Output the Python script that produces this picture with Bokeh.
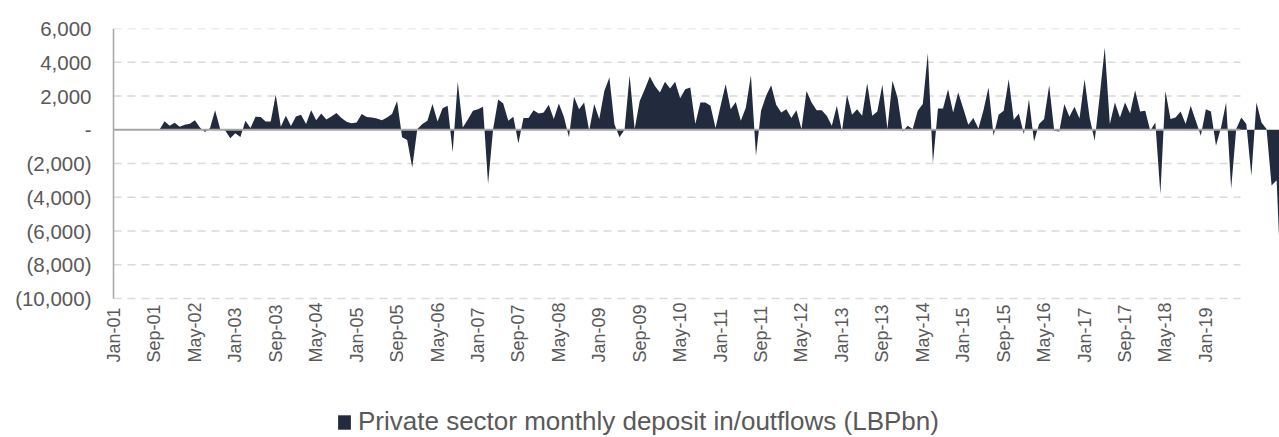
import math
import pandas as pd
from bokeh.plotting import figure
from bokeh.models import ColumnDataSource, FixedTicker, Legend, LegendItem, LabelSet
from bokeh.core.properties import value
from bokeh.embed import file_html
from bokeh.resources import INLINE

# ---------------- data ----------------
START_MONTH = "2001-01-01"

flows = [
    0, 0, 0, 0, 0, 0, 0, 0, 0, 0,
    500, 240, 410, 180, 300, 350, 570, 140, -140,
    100, 1160, 40, -50, -510, -200, -430, 530, 100, 770,
    750, 490, 490, 2070, 180, 830, 220, 790, 890, 340,
    1160, 570, 970, 610, 790, 1000, 690, 470, 390, 430,
    930, 750, 730, 670, 570, 730, 930, 1710, -450, -610,
    -2230, 40, 340, 530, 1520, 490, 1280, 1420, -1340, 2840,
    140, 610, 1120,
    1220, 1360, -3210, 40, 1790, 1560,
    530, 770, -810, 690, 690, 1160, 970, 1020, 1480, 630,
    1560, 770, -450, 1950, 1220, 1620, -60, 1520, 630, 2300,
    3090, 330, -450, 0, 3230, 40, 1710, 2400, 3150, 2600,
    2210, 2840, 2440, 2840, 1870, 2400, 2500, 340, 1620, 1620,
    1420, 100, 1420, 2700, 1220, 1650, 530, 1320, 3230, -1540,
    1120, 2010, 2640,
    1480, 1020, 1220, 690, 1160, 40,
    2300, 1620, 1160, 1160, 830, 240, 1420, -100, 2070, 890,
    1220, 830, 2760, 830, 1080, 2660, 40, 2900, 1910, -100,
    240, 40, 1120, 1520, 4530, -1990, 1260, 1260, 2400, 1020,
    2210, 1280, 300, 690, 80, 1160, 2500, -350, 890, 1120,
    2990, 590, 970, -260, 1810, -690, 340, 630, 2640, -60,
    -100, 1520, 770, 1360,
    670, 2990, 730, -650, 2000,
    4870, 340, 1620, 730, 1620, 970, 2340, 1080, 1120, -60,
    430, -3800, 2300, 630, 730, 1080, 340, 1420, 530, -350,
    1220, 1080, -950, 140, 1620, -3500, 40, 730, 340, -2720,
    1620, 430, 40, -3310, -2990, -10200,
]

y_ticks = [6000, 4000, 2000, 0, -2000, -4000, -6000, -8000, -10000]
y_tick_labels = ["6,000", "4,000", "2,000", "-", "(2,000)", "(4,000)",
                 "(6,000)", "(8,000)", "(10,000)"]

series_name = "Private sector monthly deposit in/outflows (LBPbn)"

dates = pd.date_range(START_MONTH, periods=len(flows), freq="MS")
month_labels = [d.strftime("%b-%y") for d in dates]
label_step = 8
last_label = "Jan-19"
x_tick_idx = list(range(0, month_labels.index(last_label) + 1, label_step))

# ---------------- layout / style ----------------
FONT = "Liberation Sans"
TEXT_COLOR = "#595959"
AREA_COLOR = "#222a3e"
GRID_COLOR = "#d9d9d9"
AXIS_COLOR = "#a6a6a6"

W, H = 1279, 437
FRAME_LEFT, TOP = 100, 28
AXIS_X_PX = 113          # page x of the value axis line
LABEL_RIGHT_PX = 91      # page x where the value labels end
M0_PX = 113.5            # page x of the first month
PX_PER_MONTH = 5.055
AXIS_PX = 270            # pixel height from 6,000 to (10,000)

frame_h = H - TOP
y_max, y_min_tick = y_ticks[0], y_ticks[-1]
y_start = y_max - (y_max - y_min_tick) * frame_h / AXIS_PX

x_start = (FRAME_LEFT - M0_PX) / PX_PER_MONTH
x_end = (W - M0_PX) / PX_PER_MONTH
axis_x = (AXIS_X_PX - M0_PX) / PX_PER_MONTH
grid_end = month_labels.index("Sep-19") - 1.15

src = ColumnDataSource(dict(x=list(range(len(flows))), v=flows))

p = figure(width=W, height=H,
           x_range=(x_start, x_end), y_range=(y_start, y_max),
           output_backend="svg", toolbar_location=None,
           x_axis_location=None,
           min_border_left=FRAME_LEFT, min_border_right=0,
           min_border_top=TOP, min_border_bottom=0)
p.outline_line_color = None
p.background_fill_color = "white"
p.border_fill_color = "white"
p.xgrid.visible = False
p.ygrid.visible = False

# dashed horizontal gridlines at the tick values
grid_vals = [t for t in y_ticks if t != 0]
grid_src = ColumnDataSource(dict(y=grid_vals,
                                 x0=[axis_x] * len(grid_vals),
                                 x1=[grid_end] * len(grid_vals)))
p.segment(x0="x0", y0="y", x1="x1", y1="y", source=grid_src,
          line_color=GRID_COLOR, line_width=1.4, line_dash="8 6")

area = p.varea(x="x", y1=0, y2="v", source=src, fill_color=AREA_COLOR)

# zero (category) axis line
zero_src = ColumnDataSource(dict(x0=[axis_x], x1=[grid_end], y=[0]))
p.segment(x0="x0", y0="y", x1="x1", y1="y", source=zero_src,
          line_color=AXIS_COLOR, line_width=2)

# value-axis line
vline_src = ColumnDataSource(dict(x=[axis_x], y0=[y_min_tick], y1=[y_max]))
p.segment(x0="x", y0="y0", x1="x", y1="y1", source=vline_src,
          line_color=AXIS_COLOR, line_width=1.5)

# y axis (labels only)
yax = p.yaxis[0]
yax.bounds = (y_min_tick, y_max)
yax.ticker = FixedTicker(ticks=y_ticks)
yax.major_label_overrides = {t: l for t, l in zip(y_ticks, y_tick_labels)}
yax.axis_line_color = None
yax.major_tick_line_color = None
yax.minor_tick_line_color = None
yax.major_tick_out = 0
yax.major_tick_in = 0
yax.major_label_standoff = FRAME_LEFT - LABEL_RIGHT_PX
yax.major_label_text_font = FONT
yax.major_label_text_font_size = "20.5px"
yax.major_label_text_color = TEXT_COLOR

# category labels below the plot area (rotated, reading upwards)
xlab_src = ColumnDataSource(dict(x=x_tick_idx,
                                 y=[y_min_tick] * len(x_tick_idx),
                                 text=[month_labels[i] for i in x_tick_idx]))
xlabels = LabelSet(x="x", y="y", text="text", source=xlab_src,
                   angle=math.pi / 2, y_offset=-64,
                   text_align="left", text_baseline="middle",
                   text_font=value(FONT), text_font_size="18px",
                   text_color=TEXT_COLOR)
p.add_layout(xlabels)

legend = Legend(items=[LegendItem(label=series_name, renderers=[area])],
                location=(336 - FRAME_LEFT, 0), orientation="horizontal",
                background_fill_alpha=0, border_line_color=None,
                padding=0, margin=0, spacing=0,
                glyph_width=16, glyph_height=18, label_standoff=6,
                label_text_font=FONT, label_text_font_size="26px",
                label_text_color=TEXT_COLOR)
p.add_layout(legend)

open("out.html", "w").write(file_html(p, INLINE))
